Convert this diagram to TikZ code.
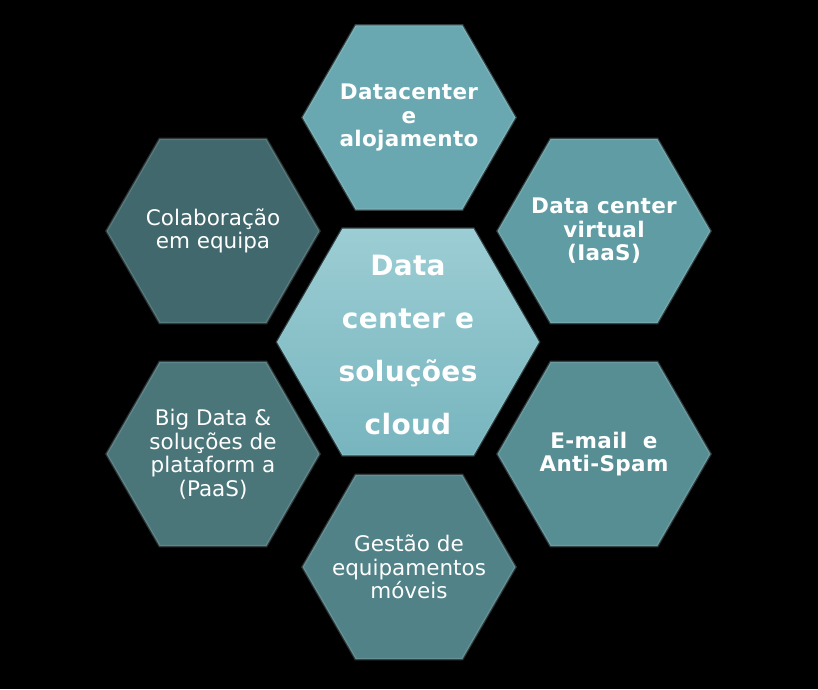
\documentclass[tikz,border=0pt]{standalone}
\usepackage{fontspec}
\setmainfont{DejaVu Sans}
\usetikzlibrary{shapes.geometric}
\definecolor{cTop}{HTML}{69A8B0}
\definecolor{cTR}{HTML}{5F9CA3}
\definecolor{cBR}{HTML}{578E94}
\definecolor{cBot}{HTML}{508287}
\definecolor{cBL}{HTML}{4A767A}
\definecolor{cTL}{HTML}{41686C}
\definecolor{cMidT}{HTML}{9CCDD4}
\definecolor{cMidB}{HTML}{77B5BE}
\begin{document}
\begin{tikzpicture}[x=1pt,y=-1pt,
  hexa/.style={regular polygon, regular polygon sides=6, minimum size=213pt,
    inner sep=0pt, outer sep=0pt, fill=#1, draw=#1!60!white, draw opacity=0.3, line width=2.5pt},
  bigtext/.style={text=white, align=center,
    font=\fontsize{28}{53}\selectfont\bfseries\addfontfeature{LetterSpace=1}},
  boldtext/.style={text=white, align=center,
    font=\fontsize{21.5}{23.5}\selectfont\bfseries\addfontfeature{LetterSpace=1.5}},
  regtext/.style={text=white, align=center,
    font=\fontsize{21.5}{23.5}\selectfont}]
\fill[black] (0,0) rectangle (818,689);
\useasboundingbox (0,0) rectangle (818,689);

\node[hexa=cTop] (top) at (409,117.5) {};
\node[hexa=cTR] (tr) at (604,231) {};
\node[hexa=cBR] (br) at (604,454) {};
\node[hexa=cBot] (bot) at (409,567) {};
\node[hexa=cBL] (bl) at (213,454) {};
\node[hexa=cTL] (tl) at (213,231) {};
\node[regular polygon, regular polygon sides=6, minimum size=262pt, inner sep=0pt, outer sep=0pt,
  top color=cMidT, bottom color=cMidB, draw=cMidT, draw opacity=0.3, line width=2.5pt] (mid) at (408,342) {};

\node[boldtext] (ttop) at (top) {Datacenter\\e\\alojamento};
\node[boldtext] (ttr) at (tr) {Data center\\virtual\\(IaaS)};
\node[boldtext] (tbr) at (br) {E-mail~~e\\Anti-Spam};
\node[regtext] (tbot) at (bot) {Gestão de\\equipamentos\\móveis};
\node[regtext] (tbl) at (bl) {Big Data \&\\soluções de\\plataform a\\(PaaS)};
\node[regtext] (ttl) at (tl) {Colaboração\\em equipa};
\node[bigtext] (tmid) at ([yshift=-3pt]mid.center) {Data\\center e\\soluções\\cloud};
\end{tikzpicture}
\end{document}
